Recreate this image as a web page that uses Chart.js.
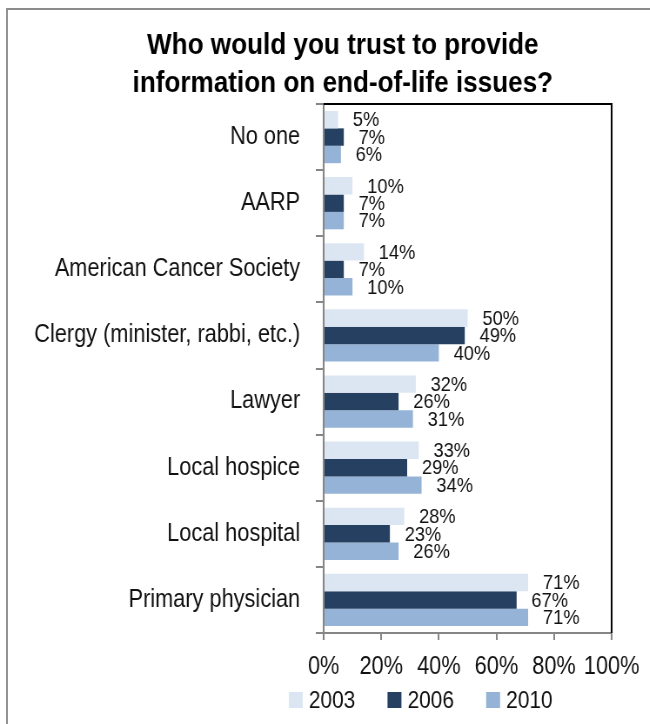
<!DOCTYPE html>
<html>
<head>
<meta charset="utf-8">
<script src="https://cdn.jsdelivr.net/npm/chart.js@4/dist/chart.umd.min.js"></script>
<style>
  html, body { margin: 0; padding: 0; background: #fff; overflow: hidden; }
  /* the figure is laid out wide and condensed horizontally */
  #wrap { width: 747px; height: 724px; transform: scaleX(0.87); transform-origin: 0 0; }
  canvas { display: block; }
</style>
</head>
<body>
<div id="wrap"><canvas id="c" width="747" height="724"></canvas></div>
<script>
const titleLines = ['Who would you trust to provide', 'information on end-of-life issues?'];
const categories = [
  'No one',
  'AARP',
  'American Cancer Society',
  'Clergy (minister, rabbi, etc.)',
  'Lawyer',
  'Local hospice',
  'Local hospital',
  'Primary physician'
];
const seriesNames = ['2003', '2006', '2010'];
const values2003 = [5, 10, 14, 50, 32, 33, 28, 71];
const values2006 = [7, 7, 7, 49, 26, 29, 23, 67];
const values2010 = [6, 7, 10, 40, 31, 34, 26, 71];
const xTickValues = [0, 20, 40, 60, 80, 100];

const seriesColors = ['#dce6f2', '#254061', '#95b3d7'];
const FONT = "'Liberation Sans', Arial, sans-serif";
const AXIS_GREY = '#868686';

Chart.defaults.font.family = FONT;
Chart.defaults.color = '#111';

// Outer frame, plot frame, title, value labels and legend
const decorations = {
  id: 'decorations',
  beforeDraw(chart) {
    const ctx = chart.ctx;
    ctx.save();
    ctx.fillStyle = '#fff';
    ctx.fillRect(0, 0, chart.width, chart.height);
    ctx.strokeStyle = '#8c8c8c';
    ctx.lineWidth = 2;
    ctx.strokeRect(8, 9, chart.width + 40, chart.height + 40);
    ctx.restore();
  },
  afterDatasetsDraw(chart) {
    const ctx = chart.ctx;
    ctx.save();
    ctx.font = '21px ' + FONT;
    ctx.fillStyle = '#111';
    ctx.textAlign = 'left';
    ctx.textBaseline = 'middle';
    chart.data.datasets.forEach((ds, di) => {
      const meta = chart.getDatasetMeta(di);
      meta.data.forEach((bar, i) => {
        ctx.fillText(ds.data[i] + '%', bar.x + 17, bar.y + 1);
      });
    });
    ctx.restore();
  },
  afterDraw(chart) {
    const ctx = chart.ctx;
    const a = chart.chartArea;
    ctx.save();
    // top and right edges of the plot box
    ctx.strokeStyle = '#000';
    ctx.lineWidth = 2;
    ctx.beginPath();
    ctx.moveTo(a.left, a.top);
    ctx.lineTo(a.right, a.top);
    ctx.lineTo(a.right, a.bottom);
    ctx.stroke();

    // title
    ctx.fillStyle = '#000';
    ctx.font = 'bold 30px ' + FONT;
    ctx.textAlign = 'center';
    ctx.textBaseline = 'alphabetic';
    ctx.fillText(titleLines[0], 394, 54);
    ctx.fillText(titleLines[1], 394, 92);

    // legend
    ctx.font = '24px ' + FONT;
    ctx.textAlign = 'left';
    ctx.textBaseline = 'middle';
    let x = a.left - 40;
    const cy = 700;
    chart.data.datasets.forEach((ds) => {
      ctx.fillStyle = ds.backgroundColor;
      ctx.fillRect(x, cy - 8, 16, 16);
      ctx.fillStyle = '#111';
      ctx.fillText(ds.label, x + 23, cy + 1);
      x += 23 + ctx.measureText(ds.label).width + 37;
    });
    ctx.restore();
  }
};

new Chart(document.getElementById('c'), {
  type: 'bar',
  data: {
    labels: categories,
    datasets: [
      { label: seriesNames[0], data: values2003, backgroundColor: seriesColors[0] },
      { label: seriesNames[1], data: values2006, backgroundColor: seriesColors[1] },
      { label: seriesNames[2], data: values2010, backgroundColor: seriesColors[2] }
    ]
  },
  options: {
    indexAxis: 'y',
    responsive: false,
    animation: false,
    devicePixelRatio: 1,
    categoryPercentage: 0.79,
    barPercentage: 1.0,
    layout: { padding: { top: 104, right: 42, bottom: 0, left: 0 } },
    plugins: {
      legend: { display: false },
      title: { display: false },
      tooltip: { enabled: false }
    },
    scales: {
      x: {
        min: 0,
        max: 100,
        afterBuildTicks(scale) { scale.ticks = xTickValues.map(v => ({ value: v })); },
        afterFit(scale) { scale.height = 91; },
        grid: { drawOnChartArea: false, drawTicks: true, tickLength: 7, color: AXIS_GREY, lineWidth: 2 },
        border: { color: AXIS_GREY, width: 2 },
        ticks: {
          autoSkip: false,
          padding: 12,
          font: { size: 25 },
          color: '#111',
          maxRotation: 0,
          callback: (v) => v + '%'
        }
      },
      y: {
        afterFit(scale) { scale.width = 372; },
        grid: { offset: true, drawOnChartArea: false, drawTicks: true, tickLength: 9, color: AXIS_GREY, lineWidth: 2 },
        border: { color: AXIS_GREY, width: 2 },
        ticks: { padding: 18, font: { size: 25 }, color: '#111' }
      }
    }
  },
  plugins: [decorations]
});
</script>
</body>
</html>
